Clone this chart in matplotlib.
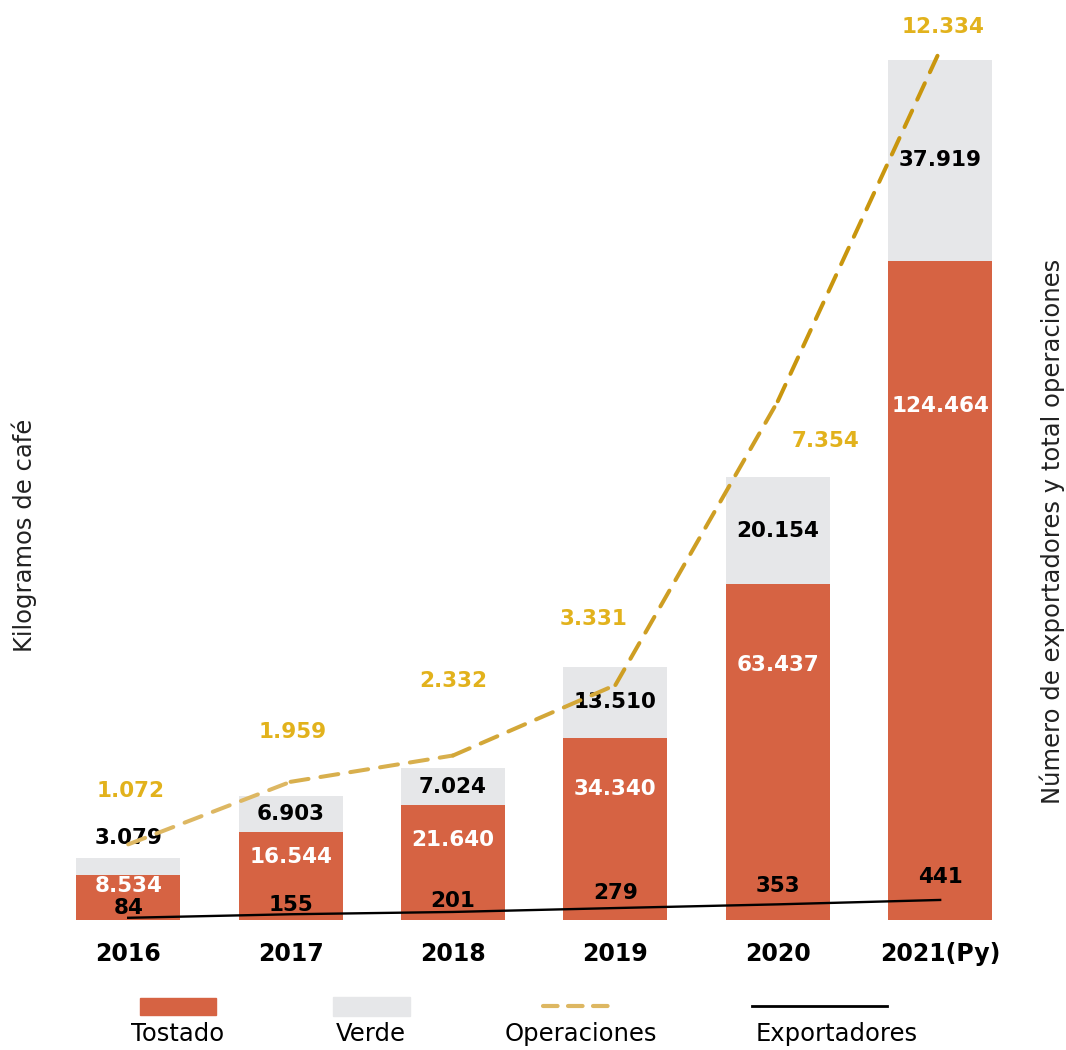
import matplotlib.pyplot as plt
from matplotlib.patches import Rectangle
from matplotlib.lines import Line2D
import matplotlib.colors as mcolors
import numpy as np

# data
years = ["2016", "2017", "2018", "2019", "2020", "2021(Py)"]
tostado = [8534, 16544, 21640, 34340, 63437, 124464]
verde = [3079, 6903, 7024, 13510, 20154, 37919]
operaciones = [1072, 1959, 2332, 3331, 7354, 12334]
exportadores = [84, 155, 201, 279, 353, 441]

# label offsets (pixels) for the line value labels
op_offsets = [(2, 53), (2, 50), (0, 75), (-22, 66), (48, -40), (3, 23)]
ex_offsets = [(0, 10), (0, 9), (0, 11), (0, 15), (0, 18), (0, 23)]
# where the white tostado label sits inside the bar (fraction of bar height)
tost_lab = [0.76, 0.72, 0.7, 0.72, 0.76, 0.78]


def fmt(v):
    return f"{v:,}".replace(",", ".")


ORANGE = "#D66343"
GREY = "#E6E7E9"
GOLD_TXT = "#E2B21C"
GOLD_A = "#DDB762"
GOLD_B = "#C9960E"

plt.rcParams['font.family'] = ['DejaVu Sans']

fig = plt.figure(figsize=(10.66, 10.5), dpi=100)
W, H = 1066, 1050
pos = [60 / W, 1 - 920 / H, 950 / W, 900 / H]

ax = fig.add_axes(pos)
x = np.arange(len(years))
tost = np.array(tostado)
verd = np.array(verde)
total = tost + verd

ax.bar(x, tost, width=0.64, color=ORANGE, zorder=2)
ax.bar(x, verd, width=0.64, bottom=tost, color=GREY, zorder=2)
ax.set_xlim(-0.42, 5.43)
ax.set_ylim(0, total.max() * 900 / 860)
ax.set_yticks([])
ax.set_xticks(x)
ax.set_xticklabels(years, fontsize=17, fontweight='bold')
ax.tick_params(axis='x', length=0, pad=16)
for s in ax.spines.values():
    s.set_visible(False)

num_kw = dict(ha='center', va='center', fontsize=15.5, fontweight='bold', zorder=6)
for i in range(len(years)):
    ax.text(x[i], tost[i] * tost_lab[i], fmt(tostado[i]), color='white', **num_kw)
    if verd[i] < 5000:
        ax.annotate(fmt(verde[i]), (x[i], total[i]), xytext=(0, 20),
                    textcoords='offset pixels', color='black', **num_kw)
    else:
        ax.text(x[i], tost[i] + verd[i] / 2, fmt(verde[i]), color='black', **num_kw)

# operaciones on second axis
ax2 = fig.add_axes(pos, sharex=ax)
ax2.patch.set_visible(False)
ax2.set_ylim(0, max(operaciones) * 900 / 870)
n = len(operaciones)
for i in range(n - 1):
    t = i / (n - 2)
    c = np.array(mcolors.to_rgb(GOLD_A)) * (1 - t) + np.array(mcolors.to_rgb(GOLD_B)) * t
    ax2.plot(x[i:i + 2], operaciones[i:i + 2], color=c, lw=2.9,
             dashes=(4.5, 3), solid_capstyle='round', dash_capstyle='round', zorder=4)
for i, v in enumerate(operaciones):
    ax2.annotate(fmt(v), (x[i], v), xytext=op_offsets[i], textcoords='offset pixels',
                 color=GOLD_TXT, **num_kw)
ax2.axis('off')

# exportadores on third axis
ax3 = fig.add_axes(pos, sharex=ax)
ax3.patch.set_visible(False)
ax3.set_ylim(40, 18040)
ax3.plot(x, exportadores, color='black', lw=1.7, zorder=4)
for i, v in enumerate(exportadores):
    ax3.annotate(fmt(v), (x[i], v), xytext=ex_offsets[i], textcoords='offset pixels',
                 color='black', **num_kw)
ax3.axis('off')

# axis titles
fig.text(24 / W, 1 - 535 / H, "Kilogramos de café", rotation=90,
         ha='center', va='center', fontsize=17.5, color='#222222')
fig.text(1052 / W, 1 - 531 / H, "Número de exportadores y total operaciones",
         rotation=90, ha='center', va='center', fontsize=17.5, color='#222222')

# legend drawn by hand: handle above the text
leg_y = 1 - 1006 / H
fig.add_artist(Rectangle((140 / W, 1 - 1015 / H), 76 / W, 17 / H,
                         transform=fig.transFigure, color=ORANGE))
fig.add_artist(Rectangle((333 / W, 1 - 1016 / H), 77 / W, 19 / H,
                         transform=fig.transFigure, color=GREY))
fig.add_artist(Line2D([543 / W, 617 / W], [leg_y, leg_y], transform=fig.transFigure,
                      color=GOLD_A, lw=3, dashes=(3.5, 2.5), dash_capstyle='round'))
fig.add_artist(Line2D([752 / W, 887 / W], [leg_y, leg_y], transform=fig.transFigure,
                      color='black', lw=2))
for lx, lab in [(178, "Tostado"), (371, "Verde"), (581, "Operaciones"), (837, "Exportadores")]:
    fig.text(lx / W, 4 / H, lab, ha='center', va='bottom', fontsize=17.5, color='black')

fig.savefig("out.png", dpi=100)
